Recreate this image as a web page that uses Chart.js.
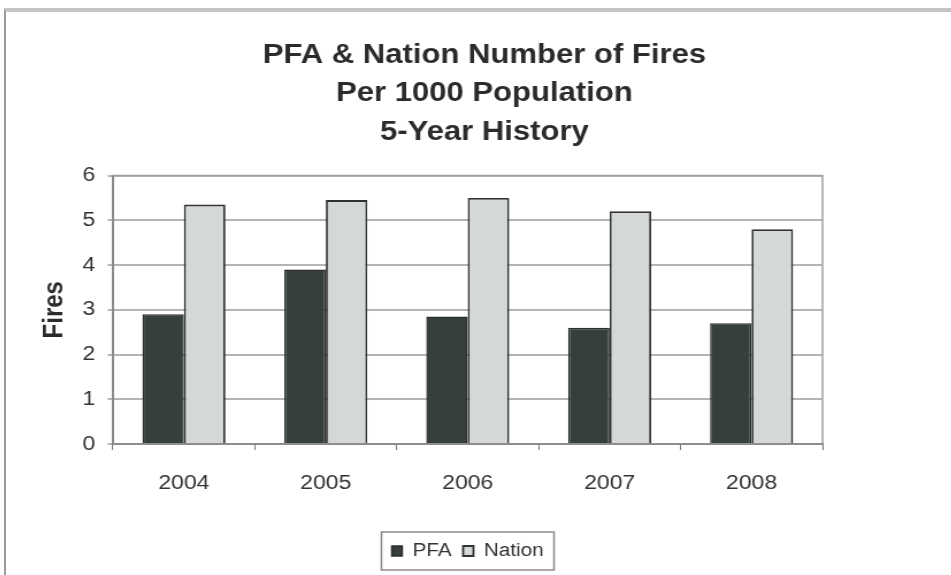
<!DOCTYPE html>
<html>
<head>
<meta charset="utf-8">
<script src="https://cdn.jsdelivr.net/npm/chart.js@4/dist/chart.umd.min.js"></script>
<style>
  html, body { margin: 0; padding: 0; background: #fff; overflow: hidden; }
  #wrap {
    width: 947px; height: 567px;
    box-sizing: border-box;
    border-top: 4px solid #c4c4c4;
    border-left: 2px solid #9a9a9a;
    margin-top: 8px; margin-left: 4px;
    overflow: hidden;
  }
  /* the whole chart is drawn a little narrow and widened here */
  #inner { width: 822px; transform: scaleX(1.15); transform-origin: 0 0; }
  canvas { display: block; }
</style>
</head>
<body>
<div id="wrap"><div id="inner"><canvas id="chart" width="822" height="563"></canvas></div></div>
<script>
// Fires per 1000 population, 2004-2008
const years = ['2004', '2005', '2006', '2007', '2008'];
const pfaFires = [2.9, 3.9, 2.85, 2.6, 2.7];
const nationFires = [5.35, 5.45, 5.5, 5.2, 4.8];
const titleLines = ['PFA & Nation Number of Fires', 'Per 1000 Population', '5-Year History'];

const FONT = "'Liberation Sans', Arial, sans-serif";

// frame around the plot area and around the legend
const framePlugin = {
    id: 'frames',
    beforeDatasetsDraw(chart) {
        const { ctx, chartArea: a } = chart;
        ctx.save();
        ctx.strokeStyle = '#a0a0a0';
        ctx.lineWidth = 1.5;
        ctx.strokeRect(a.left, a.top, a.right - a.left, a.bottom - a.top);
        ctx.restore();
    },
    afterDraw(chart) {
        const boxes = chart.legend.legendHitBoxes;
        if (!boxes || !boxes.length) return;
        const left = Math.min(...boxes.map(b => b.left)) - 9;
        const right = Math.max(...boxes.map(b => b.left + b.width)) + 9;
        const top = Math.min(...boxes.map(b => b.top)) - 10;
        const bottom = Math.max(...boxes.map(b => b.top + b.height)) + 10;
        const { ctx } = chart;
        ctx.save();
        ctx.strokeStyle = '#8a8a8a';
        ctx.lineWidth = 1.5;
        ctx.strokeRect(left, top, right - left, bottom - top);
        ctx.restore();
    }
};

const ctx = document.getElementById('chart').getContext('2d');
const myChart = new Chart(ctx, {
    type: 'bar',
    data: {
        labels: years,
        datasets: [{
            label: 'PFA',
            data: pfaFires,
            backgroundColor: '#363f3a',
            borderColor: '#2a2f2c',
            borderWidth: 1.5
        }, {
            label: 'Nation',
            data: nationFires,
            backgroundColor: '#d4d9d7',
            borderColor: '#2f3230',
            borderWidth: 1.8
        }]
    },
    options: {
        responsive: false,
        animation: false,
        devicePixelRatio: 1,
        layout: { padding: { top: 10, left: 10, right: 0, bottom: 5 } },
        datasets: {
            bar: { categoryPercentage: 0.585, barPercentage: 1.0 }
        },
        plugins: {
            title: {
                display: true,
                text: titleLines,
                color: '#2b2b2b',
                font: { family: FONT, size: 27, weight: 'bold', lineHeight: 1.426 },
                padding: { top: 14, bottom: 24 }
            },
            legend: {
                position: 'bottom',
                fullSize: false,
                labels: {
                    color: '#333',
                    font: { family: FONT, size: 18 },
                    boxWidth: 9,
                    boxHeight: 10,
                    padding: 10
                }
            },
            tooltip: { enabled: false }
        },
        scales: {
            x: {
                grid: {
                    display: true,
                    offset: true,
                    drawOnChartArea: false,
                    tickLength: 6,
                    color: '#777'
                },
                border: { color: '#555', width: 2 },
                ticks: {
                    color: '#333',
                    font: { family: FONT, size: 20 },
                    padding: 21
                },
                afterFit(scale) { scale.height = 88; }
            },
            y: {
                min: 0,
                max: 6,
                ticks: {
                    stepSize: 1,
                    color: '#333',
                    font: { family: FONT, size: 20 },
                    padding: 11
                },
                grid: {
                    color: '#b4b4b4',
                    lineWidth: 2,
                    tickLength: 4.5
                },
                border: { color: '#444', width: 2 },
                title: {
                    display: true,
                    text: 'Fires',
                    color: '#2b2b2b',
                    font: { family: FONT, size: 24, weight: 'bold', lineHeight: 1.2 },
                    padding: { top: 18, bottom: 0 }
                },
                afterFit(scale) { scale.width = 83; }
            },
            // empty axis that keeps the gap on the right of the plot
            yr: {
                position: 'right',
                grid: { display: false },
                border: { display: false },
                ticks: { display: false },
                afterFit(scale) { scale.width = 112; }
            }
        }
    },
    plugins: [framePlugin]
});
</script>
</body>
</html>
